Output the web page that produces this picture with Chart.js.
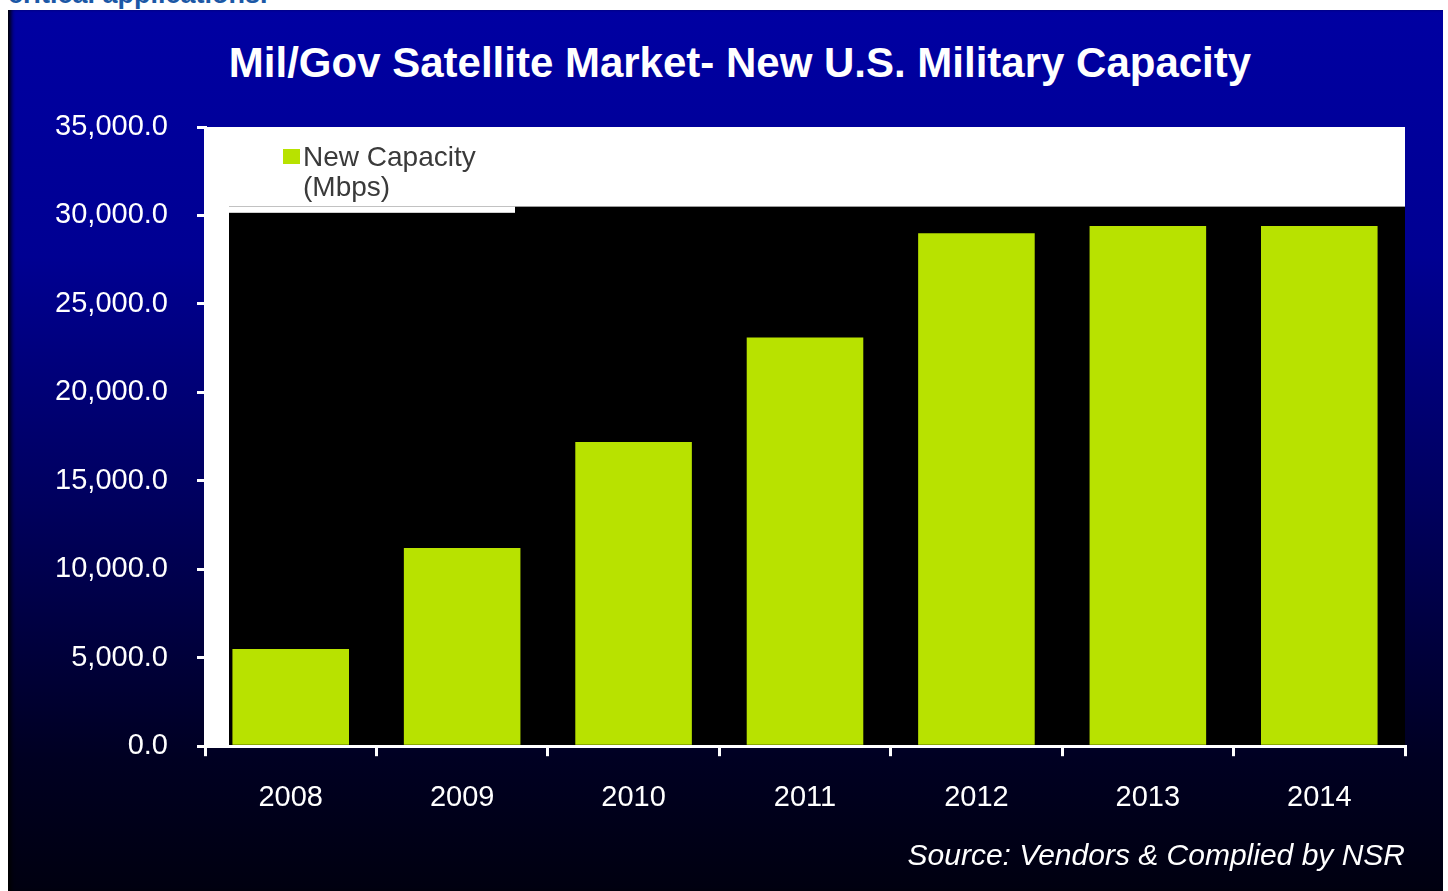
<!DOCTYPE html>
<html>
<head>
<meta charset="utf-8">
<script src="https://cdn.jsdelivr.net/npm/chart.js@4.4.1/dist/chart.umd.min.js"></script>
<style>
    html, body { margin: 0; padding: 0; background: #fff; overflow: hidden; }
    #page { position: relative; width: 1448px; height: 891px; }
    #intro {
        position: absolute; left: 8px; top: -21px;
        font: bold 27px "Liberation Sans", Arial, sans-serif; color: #1b58a6;
    }
    #panel {
        position: absolute; left: 8px; top: 10px; width: 1435px; height: 881px;
        background: linear-gradient(to bottom, #0000a2 0%, #000092 28%, #00005a 58%, #000022 85%, #000010 100%);
        box-shadow: inset 5px 0 4px -2px #000;
    }
    #title {
        position: absolute; left: 0; top: 38px; width: 1480px; text-align: center;
        font: bold 42px/50px "Liberation Sans", Arial, sans-serif; color: #fff;
    }
    #wrap { position: absolute; left: 0; top: 0; width: 1448px; height: 891px; }
</style>
</head>
<body>
<div id="page">
    <div id="intro">critical applications.</div>
    <div id="panel"></div>
    <div id="title">Mil/Gov Satellite Market- New U.S. Military Capacity</div>
    <div id="wrap"><canvas id="capacity"></canvas></div>
</div>
<script>
const years = ["2008", "2009", "2010", "2011", "2012", "2013", "2014"];
const newCapacity = [5500, 11200, 17200, 23100, 29000, 29400, 29400];
const seriesName = ["New Capacity", "(Mbps)"];
const yTicks = [0, 5000, 10000, 15000, 20000, 25000, 30000, 35000];

const barGreen = "#b8e200";
const font = "'Liberation Sans', Arial, sans-serif";

// Excel-ish plot area: white box with a black inner panel, legend sits in the white strip.
const plotBackground = {
    id: "plotBackground",
    beforeDraw(chart) {
        const { ctx, chartArea: a, scales: { y } } = chart;
        ctx.save();
        ctx.fillStyle = "#fff";
        ctx.fillRect(a.left, a.top, a.right - a.left, a.bottom - a.top);
        const blackTop = y.getPixelForValue(30500);
        ctx.fillStyle = "#000";
        ctx.fillRect(a.left + 24, blackTop, a.right - a.left - 24, a.bottom - blackTop);
        ctx.fillStyle = "#fff";
        ctx.fillRect(a.left + 24, blackTop, 286, y.getPixelForValue(30150) - blackTop);
        ctx.restore();
    }
};

const plotLegend = {
    id: "plotLegend",
    afterDatasetsDraw(chart) {
        const { ctx, chartArea: a } = chart;
        const x = a.left + 78, top = a.top + 22;
        ctx.save();
        ctx.fillStyle = chart.data.datasets[0].backgroundColor;
        ctx.fillRect(x, top, 17, 15);
        ctx.fillStyle = "#3a3a3a";
        ctx.font = "28px " + font;
        ctx.textBaseline = "middle";
        seriesName.forEach((line, i) => ctx.fillText(line, x + 20, top + 9 + i * 30));
        ctx.restore();
    }
};

new Chart(document.getElementById("capacity"), {
    type: "bar",
    data: {
        labels: years,
        datasets: [{
            label: seriesName.join(" "),
            data: newCapacity,
            backgroundColor: barGreen,
            barPercentage: 0.68,
            categoryPercentage: 1.0
        }]
    },
    options: {
        responsive: true,
        maintainAspectRatio: false,
        animation: false,
        layout: { padding: { left: 40, right: 43, top: 127, bottom: 0 } },
        plugins: {
            legend: { display: false },
            tooltip: { enabled: false },
            title: { display: false },
            subtitle: {
                display: true,
                position: "bottom",
                align: "end",
                text: "Source: Vendors & Complied by NSR",
                color: "#fff",
                font: { family: font, size: 30, style: "italic" },
                padding: { top: 0, bottom: 16 }
            }
        },
        scales: {
            x: {
                grid: {
                    offset: true,
                    drawOnChartArea: false,
                    color: "#fff",
                    lineWidth: 3,
                    tickLength: 10
                },
                border: { color: "#fff", width: 3 },
                ticks: {
                    color: "#fff",
                    font: { family: font, size: 29 },
                    padding: 24
                }
            },
            y: {
                min: 0,
                max: 35000,
                afterBuildTicks: scale => { scale.ticks = yTicks.map(v => ({ value: v })); },
                afterFit: scale => { scale.width = 165; },
                grid: {
                    drawOnChartArea: false,
                    color: "#fff",
                    lineWidth: 3,
                    tickLength: 8
                },
                border: { color: "#fff", width: 3 },
                ticks: {
                    color: "#fff",
                    font: { family: font, size: 29 },
                    padding: 29,
                    callback: v => v.toLocaleString("en-US", { minimumFractionDigits: 1, maximumFractionDigits: 1 })
                }
            }
        }
    },
    plugins: [plotBackground, plotLegend]
});
</script>
</body>
</html>
